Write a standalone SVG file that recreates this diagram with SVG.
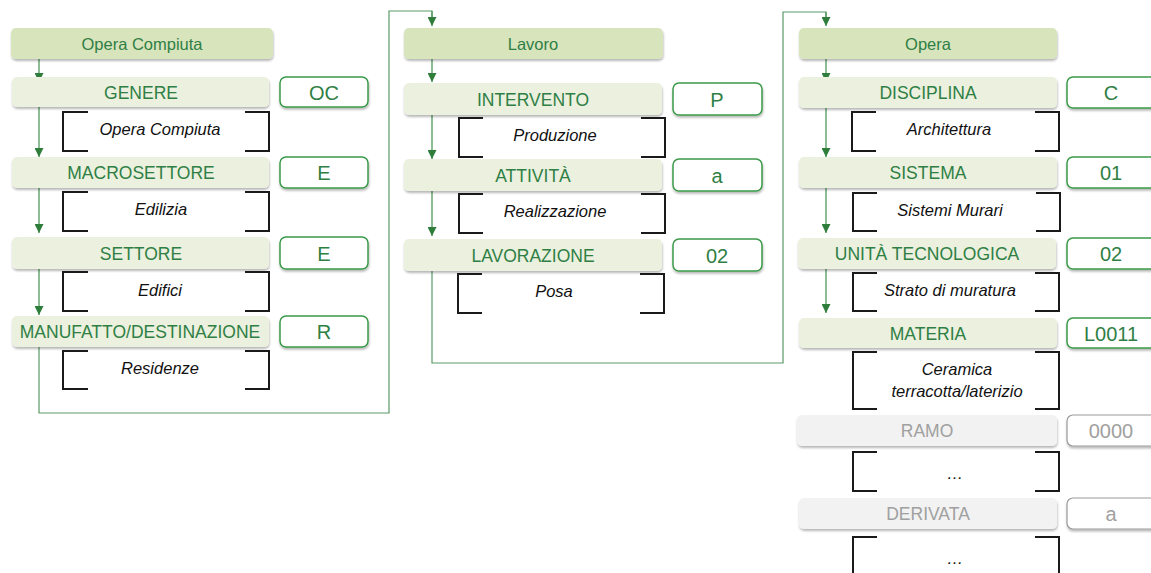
<svg xmlns="http://www.w3.org/2000/svg" width="1151" height="573" viewBox="0 0 1151 573">
<defs>
<filter id="sh" x="-5%" y="-20%" width="110%" height="160%">
<feDropShadow dx="0.5" dy="2" stdDeviation="1.3" flood-color="#000" flood-opacity="0.28"/>
</filter>
<marker id="ah" viewBox="0 0 10 10" refX="10" refY="5" markerWidth="9" markerHeight="9" markerUnits="userSpaceOnUse" orient="auto">
<path d="M0,0 L10,5 L0,10 Z" fill="#2e7d3a"/>
</marker>
</defs>
<style>
.hd{fill:#d8e4bc;filter:url(#sh)}
.lb{fill:#ebf1de;filter:url(#sh)}
.gr{fill:#f2f2f2;filter:url(#sh)}
.cd{fill:#fff;stroke:#3a9a48;stroke-width:1.5;filter:url(#sh)}
.cg{fill:#fff;stroke:#9a9a9a;stroke-width:1.2;filter:url(#sh)}
.br{fill:none;stroke:#1a1a1a;stroke-width:2}
.t{font-family:"Liberation Sans",Arial,sans-serif;fill:#2f7f45;text-anchor:middle}
.th{font-size:16.5px}
.tl{font-size:17.5px}
.tc{font-size:20px}
.tg{fill:#a0a0a0}
.ti{font-family:"Liberation Sans",Arial,sans-serif;font-style:italic;font-size:16.5px;fill:#111;text-anchor:middle}
.ar{fill:none;stroke:#4f9a5c;stroke-width:1.3;marker-end:url(#ah)}
.cn{fill:none;stroke:#5a9a68;stroke-width:1.2}
</style>

<g id="connectors">
<line class="ar" x1="39" y1="59" x2="39" y2="82"/>
<line class="ar" x1="39" y1="107" x2="39" y2="157"/>
<line class="ar" x1="39" y1="188" x2="39" y2="233"/>
<line class="ar" x1="39" y1="269" x2="39" y2="315"/>
<path class="cn" d="M39,347 V413 H389 V11 H432 V18"/>
<line class="ar" x1="432" y1="11" x2="432" y2="26"/>
<line class="ar" x1="432" y1="59" x2="432" y2="82"/>
<line class="ar" x1="432" y1="115" x2="432" y2="159"/>
<line class="ar" x1="432" y1="191" x2="432" y2="236"/>
<path class="cn" d="M432,271 V363 H783 V12 H826 V18"/>
<line class="ar" x1="826" y1="12" x2="826" y2="26"/>
<line class="ar" x1="826" y1="59" x2="826" y2="82"/>
<line class="ar" x1="826" y1="108" x2="826" y2="157"/>
<line class="ar" x1="826" y1="188" x2="826" y2="233"/>
<line class="ar" x1="826" y1="269" x2="826" y2="313"/>
</g>

<!-- Column 1 -->
<g id="opera-compiuta">
<rect class="hd" x="11" y="28" width="262" height="31" rx="5"/>
<text class="t th" x="142" y="49.5">Opera Compiuta</text>
</g>
<g id="genere">
<rect class="lb" x="12" y="77" width="257" height="30" rx="5"/>
<text class="t tl" x="141" y="98.5">GENERE</text>
<rect class="cd" x="280" y="77" width="88" height="30" rx="6"/>
<text class="t tc" x="324" y="99.5">OC</text>
<path class="br" d="M88,112 H63 V151 H88 M245,112 H269 V151 H245"/>
<text class="ti" x="160" y="135">Opera Compiuta</text>
</g>
<g id="macrosettore">
<rect class="lb" x="12" y="157" width="257" height="31" rx="5"/>
<text class="t tl" x="141" y="179">MACROSETTORE</text>
<rect class="cd" x="280" y="157" width="88" height="31" rx="6"/>
<text class="t tc" x="324" y="180">E</text>
<path class="br" d="M88,192 H63 V231 H88 M245,192 H269 V231 H245"/>
<text class="ti" x="161" y="215">Edilizia</text>
</g>
<g id="settore">
<rect class="lb" x="12" y="237" width="257" height="32" rx="5"/>
<text class="t tl" x="141" y="259.5">SETTORE</text>
<rect class="cd" x="280" y="237" width="88" height="32" rx="6"/>
<text class="t tc" x="324" y="260.5">E</text>
<path class="br" d="M88,272 H63 V311 H88 M245,272 H269 V311 H245"/>
<text class="ti" x="160" y="296">Edifici</text>
</g>
<g id="manufatto">
<rect class="lb" x="12" y="316" width="257" height="31" rx="5"/>
<text class="t tl" x="140" y="338">MANUFATTO/DESTINAZIONE</text>
<rect class="cd" x="280" y="316" width="88" height="31" rx="6"/>
<text class="t tc" x="324" y="339">R</text>
<path class="br" d="M88,351 H63 V389 H88 M245,351 H269 V389 H245"/>
<text class="ti" x="160" y="374">Residenze</text>
</g>

<!-- Column 2 -->
<g id="lavoro">
<rect class="hd" x="404" y="28" width="259" height="31" rx="5"/>
<text class="t th" x="533" y="49.5">Lavoro</text>
</g>
<g id="intervento">
<rect class="lb" x="404" y="83" width="258" height="32" rx="5"/>
<text class="t tl" x="533" y="105.5">INTERVENTO</text>
<rect class="cd" x="673" y="83" width="89" height="32" rx="6"/>
<text class="t tc" x="717" y="106.5">P</text>
<path class="br" d="M483,118 H459 V157 H483 M641,118 H665 V157 H641"/>
<text class="ti" x="555" y="141">Produzione</text>
</g>
<g id="attivita">
<rect class="lb" x="404" y="159" width="258" height="32" rx="5"/>
<text class="t tl" x="533" y="181.5">ATTIVITÀ</text>
<rect class="cd" x="673" y="159" width="89" height="32" rx="6"/>
<text class="t tc" x="717" y="182.5">a</text>
<path class="br" d="M483,194 H459 V233 H483 M641,194 H665 V233 H641"/>
<text class="ti" x="555" y="217">Realizzazione</text>
</g>
<g id="lavorazione">
<rect class="lb" x="404" y="239" width="258" height="32" rx="5"/>
<text class="t tl" x="533" y="261.5">LAVORAZIONE</text>
<rect class="cd" x="673" y="239" width="89" height="32" rx="6"/>
<text class="t tc" x="717" y="262.5">02</text>
<path class="br" d="M482,274 H458 V313 H482 M640,274 H664 V313 H640"/>
<text class="ti" x="554" y="297">Posa</text>
</g>

<!-- Column 3 -->
<g id="opera">
<rect class="hd" x="799" y="28" width="258" height="31" rx="5"/>
<text class="t th" x="928" y="49.5">Opera</text>
</g>
<g id="disciplina">
<rect class="lb" x="799" y="77" width="258" height="31" rx="5"/>
<text class="t tl" x="928" y="99">DISCIPLINA</text>
<rect class="cd" x="1067" y="77" width="90" height="31" rx="6"/>
<text class="t tc" x="1111" y="100">C</text>
<path class="br" d="M876,112 H852 V151 H876 M1035,112 H1059 V151 H1035"/>
<text class="ti" x="949" y="135">Architettura</text>
</g>
<g id="sistema">
<rect class="lb" x="799" y="157" width="258" height="31" rx="5"/>
<text class="t tl" x="928" y="179">SISTEMA</text>
<rect class="cd" x="1067" y="157" width="90" height="31" rx="6"/>
<text class="t tc" x="1111" y="180">01</text>
<path class="br" d="M877,193 H853 V231 H877 M1036,193 H1060 V231 H1036"/>
<text class="ti" x="950" y="216">Sistemi Murari</text>
</g>
<g id="unita-tecnologica">
<rect class="lb" x="798" y="238" width="258" height="31" rx="5"/>
<text class="t tl" x="927" y="260">UNITÀ TECNOLOGICA</text>
<rect class="cd" x="1067" y="238" width="90" height="31" rx="6"/>
<text class="t tc" x="1111" y="261">02</text>
<path class="br" d="M877,273 H853 V311 H877 M1035,273 H1059 V311 H1035"/>
<text class="ti" x="950" y="296">Strato di muratura</text>
</g>
<g id="materia">
<rect class="lb" x="799" y="318" width="258" height="30" rx="5"/>
<text class="t tl" x="928" y="339.5">MATERIA</text>
<rect class="cd" x="1067" y="318" width="90" height="30" rx="6"/>
<text class="t tc" x="1111" y="340.5">L0011</text>
<path class="br" d="M877,352 H853 V409 H877 M1035,352 H1059 V409 H1035"/>
<text class="ti" x="957" y="375">Ceramica</text>
<text class="ti" x="957" y="397">terracotta/laterizio</text>
</g>
<g id="ramo">
<rect class="gr" x="797" y="415" width="260" height="31" rx="5"/>
<text class="t tl tg" x="927" y="437">RAMO</text>
<rect class="cg" x="1067" y="415" width="90" height="31" rx="6"/>
<text class="t tc tg" x="1111" y="438">0000</text>
<path class="br" d="M877,452 H853 V491 H877 M1035,452 H1059 V491 H1035"/>
<text class="ti" x="955" y="479">…</text>
</g>
<g id="derivata">
<rect class="gr" x="799" y="498" width="258" height="31" rx="5"/>
<text class="t tl tg" x="928" y="520">DERIVATA</text>
<rect class="cg" x="1067" y="498" width="90" height="31" rx="6"/>
<text class="t tc tg" x="1111" y="521">a</text>
<path class="br" d="M877,537 H853 V578 H877 M1035,537 H1059 V578 H1035"/>
<text class="ti" x="955" y="564">…</text>
</g>
</svg>
